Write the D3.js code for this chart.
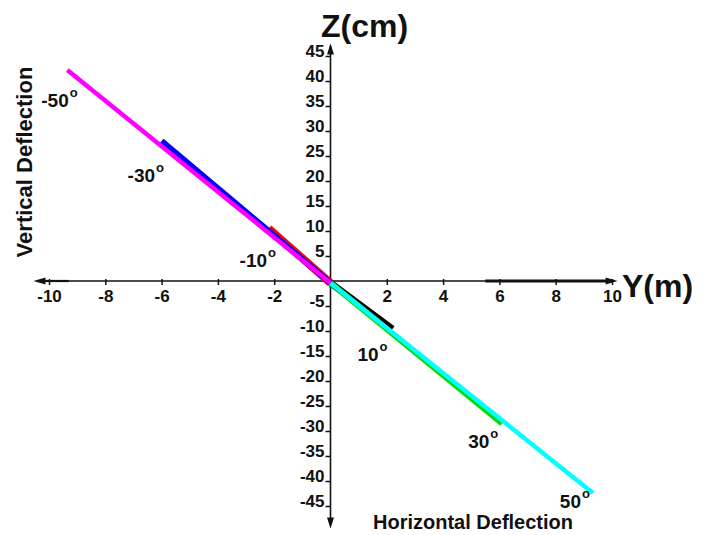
<!DOCTYPE html>
<html>
<head>
<meta charset="utf-8">
<script src="https://cdn.jsdelivr.net/npm/d3@7"></script>
<style>
  body { margin: 0; background: #fff; }
  text { font-family: "Liberation Sans", Arial, sans-serif; font-weight: bold; fill: #111; }
</style>
</head>
<body>
<script>
// deflection angles and where each trajectory ends (Y in m, Z in cm)
var angles = [-50, -30, -10, 10, 30, 50];
var endY   = [-9.35, -6.0, -2.2, 2.2, 6.1, 9.32];
var endZ   = [42.2, 28.0, 10.5, -9.6, -28.5, -42.4];
var startY = [0, 0, 0, 0, 0, 0];
var startZ = [-0.4, -0.4, -0.4, -0.4, -0.4, -0.4];
var colors = ["#ff00ff", "#0000ff", "#ff0000", "#000000", "#00dd00", "#00ffff"];

var yTicks = [-10, -8, -6, -4, -2, 2, 4, 6, 8, 10];
var zTicks = [45, 40, 35, 30, 25, 20, 15, 10, 5, -5, -10, -15, -20, -25, -30, -35, -40, -45];

var svg = d3.select("body").append("svg")
    .attr("width", 702)
    .attr("height", 535);

var x = d3.scaleLinear().domain([-10, 10]).range([49, 612]);
var z = d3.scaleLinear().domain([-45, 45]).range([506, 56]);

var x0 = x(0), z0 = z(0);
var fmt = function(d) { return String(d); };

// axis lines with arrow heads
var axes = svg.append("g").attr("stroke", "#111").attr("fill", "none");
axes.append("line").attr("x1", x(-10.45)).attr("x2", x(10.1)).attr("y1", z0).attr("y2", z0).attr("stroke-width", 1.6);
axes.append("line").attr("x1", x(5.5)).attr("x2", x(10)).attr("y1", z0).attr("y2", z0).attr("stroke-width", 3);
axes.append("line").attr("x1", x(-10.4)).attr("x2", x(-9.3)).attr("y1", z0).attr("y2", z0).attr("stroke-width", 2.2);
axes.append("line").attr("x1", x0).attr("x2", x0).attr("y1", z(47)).attr("y2", z(-48.5)).attr("stroke-width", 1.6);

function arrow(px, py, dir) {
  var p;
  if (dir == "up") p = [[px, py], [px - 3.5, py + 11], [px + 3.5, py + 11]];
  if (dir == "down") p = [[px, py], [px - 3.5, py - 11], [px + 3.5, py - 11]];
  if (dir == "left") p = [[px, py], [px + 12, py - 3.5], [px + 12, py + 3.5]];
  if (dir == "right") p = [[px, py], [px - 12, py - 3.5], [px - 12, py + 3.5]];
  svg.append("path").attr("d", "M" + p.join("L") + "Z").attr("fill", "#111");
}
arrow(x0, z(47.5), "up");
arrow(x0, z(-49.5), "down");
arrow(x(-10.55), z0, "left");
arrow(x(10.2), z0, "right");

// horizontal axis
var gx = svg.append("g")
    .attr("transform", "translate(0," + z0 + ")")
    .call(d3.axisBottom(x).tickValues(yTicks).tickSize(4).tickFormat(fmt));
gx.select(".domain").remove();
gx.selectAll(".tick line").attr("y1", -2).attr("stroke", "#111").attr("stroke-width", 1.5);
gx.selectAll(".tick text")
    .attr("y", 9)
    .attr("font-family", "Liberation Sans, Arial, sans-serif")
    .attr("font-weight", "bold")
    .attr("font-size", 17)
    .attr("fill", "#111");

// vertical axis
var gz = svg.append("g")
    .attr("transform", "translate(" + x0 + ",0)")
    .call(d3.axisLeft(z).tickValues(zTicks).tickSize(5).tickFormat(fmt));
gz.select(".domain").remove();
gz.selectAll(".tick line").attr("stroke", "#111").attr("stroke-width", 1.5);
gz.selectAll(".tick text")
    .attr("x", -6)
    .attr("dy", "0.05em")
    .attr("font-family", "Liberation Sans, Arial, sans-serif")
    .attr("font-weight", "bold")
    .attr("font-size", 17)
    .attr("fill", "#111");

// trajectories: outer colour drawn first and wider
var widths = [4.5, 6, 8, 7, 6, 4.5];
var order = [2, 1, 0, 3, 4, 5];
svg.append("g").selectAll("line")
  .data(order)
  .join("line")
    .attr("x1", function(i) { return x(startY[i]); })
    .attr("y1", function(i) { return z(startZ[i]); })
    .attr("x2", function(i) { return x(endY[i]); })
    .attr("y2", function(i) { return z(endZ[i]); })
    .attr("stroke", function(i) { return colors[i]; })
    .attr("stroke-width", function(i) { return widths[i]; });

// angle labels, placed off the end of each line
var labelOff = {"-50": [-26, 37], "-30": [-34, 41], "-10": [-29, 38], "10": [-35, 32], "30": [-34, 24], "50": [-33, 15]};
var lab = svg.append("g").selectAll("text")
  .data(angles)
  .join("text")
    .attr("x", function(d, i) { return x(endY[i]) + labelOff[d][0]; })
    .attr("y", function(d, i) { return z(endZ[i]) + labelOff[d][1]; })
    .attr("font-size", 19);
lab.append("tspan").text(function(d) { return d; });
lab.append("tspan").attr("dy", -10).attr("dx", 1).attr("font-size", 13).text("o");

// axis titles
svg.append("text").attr("x", 321).attr("y", 37).attr("font-size", 32).text("Z(cm)");
svg.append("text").attr("x", 622).attr("y", 297).attr("font-size", 32).text("Y(m)");
svg.append("text").attr("x", 373).attr("y", 529).attr("font-size", 20).text("Horizontal Deflection");
svg.append("text")
    .attr("transform", "translate(32,162) rotate(-90)")
    .attr("text-anchor", "middle")
    .attr("font-size", 22)
    .text("Vertical Deflection");
</script>
</body>
</html>
